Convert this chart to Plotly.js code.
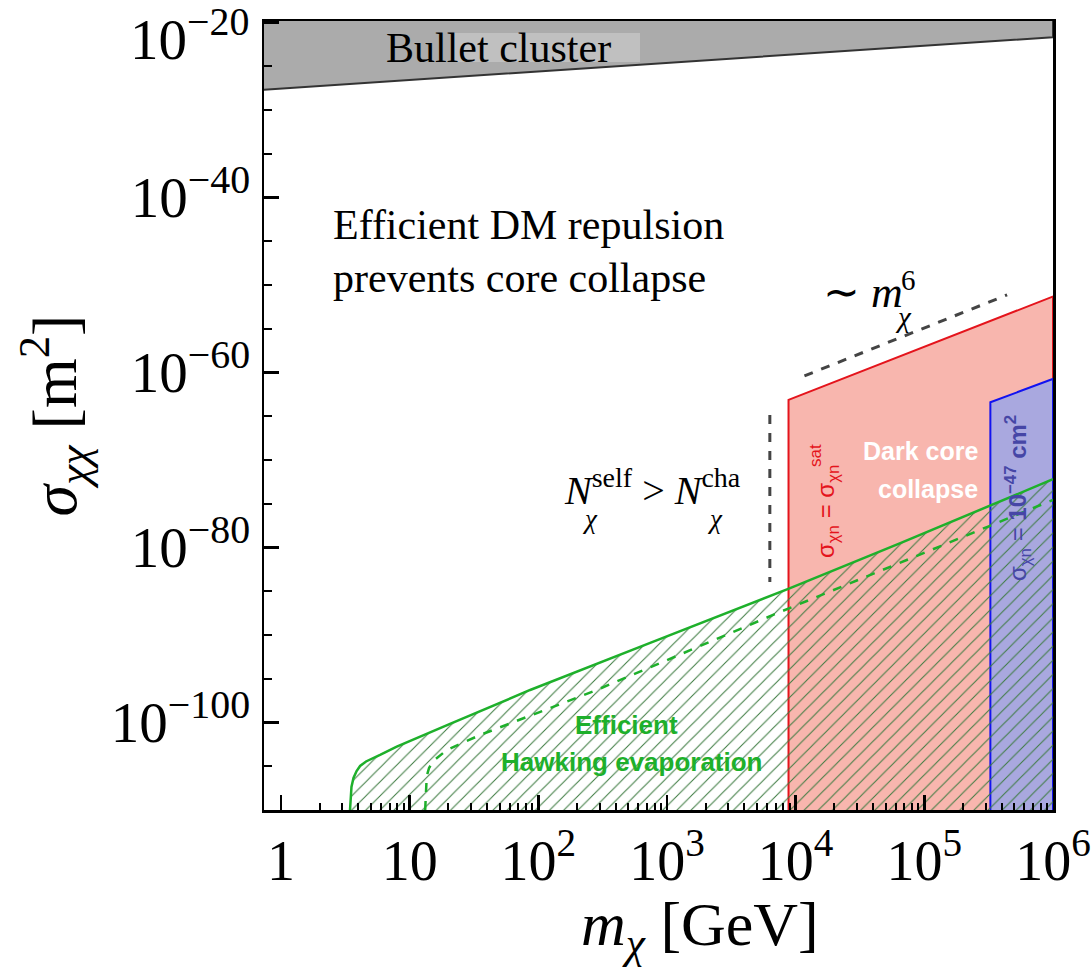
<!DOCTYPE html>
<html>
<head>
<meta charset="utf-8">
<script src="https://cdn.plot.ly/plotly-3.0.1.min.js"></script>
<style>html,body{margin:0;padding:0;background:#fff;}</style>
</head>
<body>
<div id="chart" style="width:1092px;height:973px;"></div>
<script>
// ---- data ----
// Bullet cluster bound (region above is excluded)
const bulletM = [0.7, 1e6];
const bulletSigma = [1.9e-28, 2.0e-22];
const bulletTop = [1e-19, 1e-19];

// Dark core collapse, sigma_chi-n = sigma_sat (red region)
const redM = [8800, 8800, 1e6, 1e6];
const redSigma = [1e-112, 7.2e-64, 4.7e-52, 1e-112];

// sigma_chi-n = 1e-47 cm^2 (blue region)
const blueM = [3.26e5, 3.26e5, 1e6, 1e6];
const blueSigma = [1e-112, 3.9e-64, 1.8e-61, 1e-112];

// Efficient Hawking evaporation boundary (solid)
const hawkM = [3.44, 3.47, 3.53, 3.66, 3.87, 4.12, 4.58, 5.89, 7.94, 20.6, 86.4, 740, 5305, 8760, 65100, 1e6];
const hawkSigma = [1e-110, 1.39e-109, 4.26e-108, 4.54e-107, 2.86e-106, 1.07e-105, 3.49e-105, 1.93e-104, 1.71e-103, 6.75e-101, 5.18e-97, 1.22e-91, 1.0e-86, 1.81e-85, 3.06e-80, 6.22e-73];

// Hawking evaporation boundary, second case (dashed)
const hawk2M = [13.2, 13.3, 13.58, 14.15, 15.29, 19.44, 35.3, 285, 7155, 1e6];
const hawk2Sigma = [1e-110, 5.18e-109, 7.69e-107, 6.31e-106, 3.98e-105, 7.2e-104, 3.73e-102, 5.18e-97, 3.0e-88, 2.68e-75];

// ~ m^6 guide line
const slopeM = [11700, 4.4e5];
const slopeSigma = [4.0e-61, 7.2e-52];

// N_self > N_cha boundary
const nselfM = [6300, 6300];
const nselfSigma = [1.4e-65, 1.1e-84];

// ticks
const xTickVals = [1, 10, 100, 1e3, 1e4, 1e5, 1e6];
const xTickText = ["1", "10", "10<sup>2</sup>", "10<sup>3</sup>", "10<sup>4</sup>", "10<sup>5</sup>", "10<sup>6</sup>"];
const yTickVals = [1e-100, 1e-80, 1e-60, 1e-40, 1e-20];
const yTickText = ["10<sup>\u2212100</sup>", "10<sup>\u221280</sup>", "10<sup>\u221260</sup>", "10<sup>\u221240</sup>", ""];
const yTopLabel = "10<sup>\u221220</sup>";   // label of the 1e-20 tick, placed just inside the figure

// minor ticks
const xMinor = [];
for (let e = 0; e < 6; e++) for (let k = 2; k <= 9; k++) xMinor.push(k * Math.pow(10, e));
const yMinor = [];
for (let e = -105; e <= -25; e += 5) if (e % 20 !== 0) yMinor.push(Math.pow(10, e));

// ---- styling ----
const serif = "Liberation Serif, Times New Roman, serif";
const sans = "Liberation Sans, Arial, sans-serif";
const green = "#1eb02b";

// pixel -> paper helpers for annotation placement
const L = 264, R = 1053, T = 21, B = 810;
const px = x => (x - L) / (R - L);
const py = y => (B - y) / (B - T);

const traces = [
  { x: bulletM.concat(bulletM.slice().reverse()), y: bulletSigma.concat(bulletTop), mode: "lines",
    fill: "toself", fillcolor: "#ababab", line: { color: "#333333", width: 2 }, hoverinfo: "skip" },
  { x: redM, y: redSigma, mode: "lines", fill: "toself", fillcolor: "#f8b6ae",
    line: { color: "#e4141c", width: 2 }, hoverinfo: "skip" },
  { x: blueM, y: blueSigma, mode: "lines", fill: "toself", fillcolor: "#a9a8df",
    line: { color: "#1212f0", width: 2 }, hoverinfo: "skip" },
  { x: hawkM.concat([1e6, 1e6]), y: hawkSigma.concat([1e-112, 1e-112]), mode: "lines", fill: "toself",
    fillcolor: "rgba(0,0,0,0)",
    fillpattern: { shape: "/", fgcolor: "#3c7a40", bgcolor: "rgba(0,0,0,0)", size: 10, solidity: 0.1 },
    line: { width: 0, color: "rgba(0,0,0,0)" }, hoverinfo: "skip" },
  { x: hawkM, y: hawkSigma, mode: "lines", line: { color: green, width: 2.5 }, hoverinfo: "skip" },
  { x: hawk2M, y: hawk2Sigma, mode: "lines", line: { color: green, width: 2.5, dash: "dash" }, hoverinfo: "skip" },
  { x: slopeM, y: slopeSigma, mode: "lines", line: { color: "#444444", width: 3, dash: "dash" }, hoverinfo: "skip" },
  { x: nselfM, y: nselfSigma, mode: "lines", line: { color: "#444444", width: 3, dash: "dash" }, hoverinfo: "skip" }
];

const ann = (x, y, text, opts) => Object.assign({
  xref: "paper", yref: "paper", x: px(x), y: py(y), text: text, showarrow: false,
  xanchor: "center", yanchor: "middle", font: { family: serif, size: 40, color: "#000" }
}, opts || {});

const annotations = [
  ann(251, 35, yTopLabel, { xanchor: "right", font: { family: serif, size: 57, color: "#000" } }),
  ann(700, 929, "<i>m</i><sub><i>\u03C7</i></sub> [GeV]", { font: { family: serif, size: 62, color: "#000" } }),
  ann(498, 48, "Bullet cluster", { font: { family: serif, size: 42, color: "#000" } }),
  ann(331, 225, "Efficient DM repulsion", { xanchor: "left", font: { family: serif, size: 42, color: "#000" } }),
  ann(331, 278, "prevents core collapse", { xanchor: "left", font: { family: serif, size: 42, color: "#000" } }),
  ann(863, 292, "\u223C <i>m</i>", { font: { family: serif, size: 44, color: "#000" } }),
  ann(903, 317, "<i>\u03C7</i>", { font: { family: serif, size: 29, color: "#000" } }),
  ann(908, 280, "6", { font: { family: serif, size: 29, color: "#000" } }),
  ann(652, 487, "<i>N</i><sup>self</sup> &gt; <i>N</i><sup>cha</sup>", { font: { family: serif, size: 40, color: "#000" } }),
  ann(590, 519, "<i>\u03C7</i>", { font: { family: serif, size: 27, color: "#000" } }),
  ann(715, 519, "<i>\u03C7</i>", { font: { family: serif, size: 27, color: "#000" } }),
  ann(980, 451, "<b>Dark core</b>", { xanchor: "right", font: { family: sans, size: 25, color: "#ffffff" } }),
  ann(980, 489, "<b>collapse</b>", { xanchor: "right", font: { family: sans, size: 25, color: "#ffffff" } }),
  ann(626, 725, "<b>Efficient</b>", { font: { family: sans, size: 26, color: green } }),
  ann(632, 762, "<b>Hawking evaporation</b>", { font: { family: sans, size: 26, color: green } }),
  ann(828, 512, "\u03C3<sub>\u03C7n</sub> = \u03C3<sub>\u03C7n</sub>", { textangle: -90, font: { family: sans, size: 24, color: "#e4141c" } }),
  ann(816, 456, "sat", { textangle: -90, font: { family: sans, size: 17, color: "#e4141c" } }),
  ann(1018, 498, "\u03C3<sub>\u03C7n</sub> = <b>10<sup>\u221247</sup> cm<sup>2</sup></b>", { textangle: -90, font: { family: sans, size: 24, color: "#4646a6" } })
];

const layout = {
  width: 1092, height: 973,
  margin: { l: L, r: 1092 - R, t: T, b: 973 - B, pad: 0 },
  paper_bgcolor: "#ffffff", plot_bgcolor: "#ffffff",
  showlegend: false,
  xaxis: {
    type: "log", range: [-0.132, 6], showgrid: false, zeroline: false,
    showline: true, linecolor: "#000", linewidth: 2.5, mirror: true,
    ticks: "inside", ticklen: 15, tickwidth: 2.5, tickcolor: "#000",
    tickmode: "array", tickvals: xTickVals, ticktext: xTickText,
    tickfont: { family: serif, size: 56, color: "#000" }, ticklabeloverflow: "allow",
    minor: { ticks: "inside", ticklen: 7, tickwidth: 2, tickcolor: "#000", tickmode: "array", tickvals: xMinor, showgrid: false }
  },
  yaxis: {
    type: "log", range: [-110, -19.85], showgrid: false, zeroline: false,
    showline: true, linecolor: "#000", linewidth: 2.5, mirror: true,
    ticks: "inside", ticklen: 15, tickwidth: 2.5, tickcolor: "#000",
    tickmode: "array", tickvals: yTickVals, ticktext: yTickText,
    tickfont: { family: serif, size: 57, color: "#000" }, ticklabeloverflow: "allow",
    minor: { ticks: "inside", ticklen: 8, tickwidth: 2, tickcolor: "#000", tickmode: "array", tickvals: yMinor, showgrid: false },
    title: { text: "<i>\u03C3</i><sub><i>\u03C7\u03C7</i></sub> [m<sup>2</sup>]", font: { family: serif, size: 64, color: "#000" }, standoff: 14 }
  },
  shapes: [
    { type: "rect", xref: "paper", yref: "paper", x0: px(453), x1: px(640), y0: py(62), y1: py(33),
      fillcolor: "#c0c0c0", line: { width: 0 }, layer: "above" }
  ],
  annotations: annotations
};

Plotly.newPlot("chart", traces, layout, { staticPlot: true, displayModeBar: false });
</script>
</body>
</html>
